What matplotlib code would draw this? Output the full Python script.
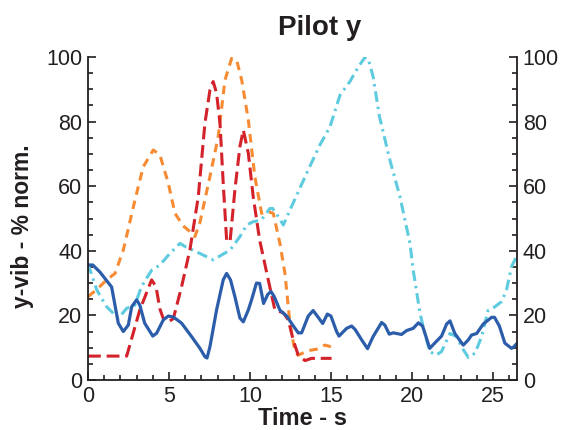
import numpy as np
import matplotlib
matplotlib.use("Agg")
import matplotlib.pyplot as plt
from matplotlib.ticker import MultipleLocator

plt.rcParams['font.family'] = ['Liberation Sans', 'DejaVu Sans']

# blue solid series
blue_t = [0.0, 0.3, 0.74, 1.46, 1.87, 2.18, 2.49, 2.7, 3.0, 3.2, 3.5, 4.0, 4.24, 4.65, 4.96,
          5.27, 5.78, 6.4, 6.9, 7.22, 7.35, 7.53, 7.94, 8.35, 8.56, 8.8, 9.07, 9.38, 9.59, 9.9,
          10.1, 10.4, 10.6, 10.84, 11.1, 11.3, 11.5, 11.85, 12.27, 12.6, 12.98, 13.19, 13.6,
          13.9, 14.2, 14.49, 14.78, 15.0, 15.35, 15.5, 15.97, 16.28, 16.5, 16.9, 17.26, 17.6,
          18.13, 18.33, 18.6, 18.85, 19.36, 19.67, 20.08, 20.4, 20.66, 21.1, 21.5, 21.83, 22.14,
          22.35, 22.65, 23.17, 23.48, 23.68, 24.0, 24.4, 24.92, 25.1, 25.4, 25.74, 26.15, 26.3, 26.5]
blue_v = [35.6, 35.6, 33.4, 28.8, 17.6, 15.0, 17.0, 22.7, 24.8, 23.2, 17.6, 13.6, 14.5, 18.6, 19.8,
          19.5, 17.6, 13.4, 9.9, 7.2, 6.8, 10.3, 21.7, 31.0, 33.0, 31.0, 25.8, 19.2, 18.0, 21.7,
          24.8, 30.0, 29.9, 23.7, 26.5, 27.4, 25.8, 21.6, 19.8, 17.3, 14.6, 14.6, 19.8,
          21.5, 19.5, 17.5, 20.4, 19.8, 15.0, 13.6, 16.0, 16.7, 15.6, 12.4, 9.7, 13.4,
          17.8, 17.0, 14.2, 14.6, 14.1, 15.3, 16.0, 17.7, 16.7, 9.8, 11.9, 13.6, 17.3,
          18.3, 14.4, 10.8, 12.4, 13.9, 14.4, 17.3, 19.4, 19.4, 16.7, 11.4, 9.8, 10.3, 11.4]

# cyan dash-dot series
cyan_t = [0.0, 0.54, 1.15, 1.87, 2.39, 2.9, 3.3, 3.93, 4.44, 5.06, 5.68, 6.0, 6.9, 7.73, 8.77,
          9.38, 9.8, 10.2, 10.7, 11.23, 11.4, 11.75, 12.06, 12.57, 13.5, 14.32, 14.94, 15.56,
          16.17, 16.7, 17.1, 17.3, 17.6, 18.0, 18.64, 19.26, 19.88, 20.08, 20.5, 20.8, 21.1,
          21.5, 21.83, 22.35, 22.76, 23.06, 23.48, 23.9, 24.3, 24.7, 25.0, 25.54, 25.84, 26.15, 26.5]
cyan_v = [36.0, 27.9, 22.7, 19.1, 22.2, 23.2, 28.9, 34.0, 35.6, 39.2, 42.3, 41.3, 39.2, 37.2, 40.2,
          44.4, 48.0, 49.0, 49.5, 53.1, 53.1, 50.6, 48.0, 53.7, 64.0, 72.8, 78.4, 88.2,
          92.4, 97.0, 99.9, 99.5, 94.0, 81.5, 68.1, 56.8, 42.3, 34.0, 20.6, 14.4, 8.8,
          7.7, 8.8, 14.4, 13.4, 10.3, 7.0, 8.3, 13.4, 21.5, 22.2, 24.3, 27.9, 35.1, 38.7]

# orange dashed series
orange_t = [0.0, 0.54, 1.15, 1.67, 2.18, 2.9, 3.41, 4.03, 4.44, 4.96, 5.37, 5.88, 6.19, 6.6,
            6.9, 7.53, 8.04, 8.46, 8.87, 9.18, 9.49, 9.9, 10.3, 10.72, 11.13, 11.44, 11.85,
            12.16, 12.47, 12.78, 12.98, 13.6, 14.1, 14.63, 15.0]
orange_v = [25.8, 28.0, 31.0, 33.0, 40.2, 55.7, 66.0, 71.2, 69.7, 60.9, 51.6, 47.7, 46.4, 44.4,
            48.5, 63.0, 75.3, 92.9, 99.6, 99.0, 92.9, 80.5, 63.0, 51.6, 52.1, 51.6, 42.3,
            33.0, 17.5, 8.8, 7.7, 9.1, 9.5, 10.8, 10.3]

# red dashed series
red_t = [0.0, 2.39, 3.2, 3.93, 4.2, 4.44, 4.65, 4.96, 5.27, 5.78, 6.3, 6.81, 7.22, 7.53, 7.73,
         7.94, 8.15, 8.35, 8.56, 8.77, 9.07, 9.38, 9.59, 9.9, 10.2, 10.6, 11.13, 11.54, 12.06,
         12.37, 12.67, 12.98, 13.4, 13.8, 15.04]
red_v = [7.4, 7.4, 21.7, 31.0, 28.9, 22.0, 19.0, 18.0, 19.0, 28.9, 40.5, 56.8, 79.5, 89.8, 92.4,
         88.8, 79.5, 60.9, 43.3, 42.8, 58.8, 72.3, 77.4, 70.2, 56.8, 43.3, 31.0, 21.7, 20.8,
         18.6, 12.4, 7.7, 6.0, 6.7, 6.7]

x_ticks = [0, 5, 10, 15, 20, 25]
y_ticks = [0, 20, 40, 60, 80, 100]

fig = plt.figure(figsize=(5.64, 4.30), dpi=100)
ax = fig.add_axes([0.156, 0.1163, 0.761, 0.7511])

ax.plot(cyan_t, cyan_v, color='#5ECBDE', lw=2.2, linestyle=(0, (3.5, 1.6, 0.8, 1.6)))
ax.plot(orange_t, orange_v, color='#F68B33', lw=2.2, linestyle=(0, (2.8, 2.0)))
ax.plot(red_t, red_v, color='#D3222A', lw=2.2, linestyle=(0, (4.2, 1.9)))
ax.plot(blue_t, blue_v, color='#2B5DAB', lw=2.3)

ax.set_xlim(0, 26.5)
ax.set_ylim(0, 100)
ax.set_xticks(x_ticks)
ax.set_yticks(y_ticks)
ax.xaxis.set_minor_locator(MultipleLocator(1))
ax.yaxis.set_minor_locator(MultipleLocator(5))

ax.spines['top'].set_visible(False)
for s in ['left', 'right', 'bottom']:
    ax.spines[s].set_linewidth(1.3)
    ax.spines[s].set_color('#231F20')

ax.tick_params(which='both', direction='in', right=True, labelright=True,
               colors='#231F20', width=1.2)
ax.tick_params(which='major', length=6, labelsize=15.5, pad=4)
ax.tick_params(which='minor', length=3.5)

ax.set_xlabel('Time - s', fontsize=17, fontweight='bold', labelpad=0, color='#231F20')
fig.text(0.04, 0.475, 'y-vib - % norm.', rotation=90, ha='center', va='center',
         fontsize=16.5, fontweight='bold', color='#231F20')
fig.text(0.567, 0.935, 'Pilot y', ha='center', va='center',
         fontsize=20, fontweight='bold', color='#231F20')

fig.savefig('out.png', dpi=100)
